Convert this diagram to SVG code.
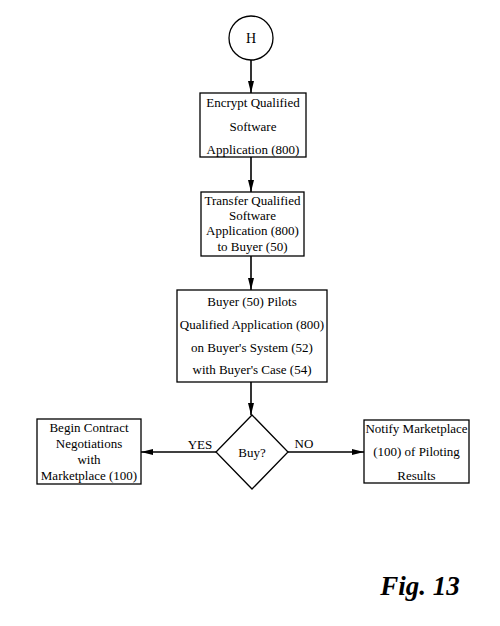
<svg xmlns="http://www.w3.org/2000/svg" width="500" height="626" viewBox="0 0 500 626">
<style>
.s{fill:#fff;stroke:#000;stroke-width:1.3}
.t{font-family:"Liberation Serif","Times New Roman",serif;font-size:13px;fill:#000;text-anchor:middle}
.c{stroke:#000;stroke-width:1.6;fill:none}
</style>
<defs>
<marker id="a" viewBox="0 0 12 6" refX="12" refY="3" markerWidth="12" markerHeight="6" markerUnits="userSpaceOnUse" orient="auto">
<path d="M0,0 L12,3 L0,6 Z" fill="#000"/>
</marker>
</defs>
<rect width="500" height="626" fill="#fff"/>
<g id="connectors">
<line class="c" x1="251" y1="60" x2="251" y2="93" marker-end="url(#a)"/>
<line class="c" x1="251" y1="157" x2="251" y2="192" marker-end="url(#a)"/>
<line class="c" x1="251" y1="256" x2="251" y2="290" marker-end="url(#a)"/>
<line class="c" x1="251" y1="382" x2="251" y2="415" marker-end="url(#a)"/>
<line class="c" x1="216" y1="452" x2="141" y2="452" marker-end="url(#a)"/>
<line class="c" x1="288" y1="452" x2="364" y2="452" marker-end="url(#a)"/>
<text class="t" x="200" y="449">YES</text>
<text class="t" x="304" y="448">NO</text>
</g>
<g id="H">
<circle class="s" cx="251" cy="38" r="22"/>
<text class="t" x="251" y="43" style="font-size:14px">H</text>
</g>
<g id="encrypt">
<rect class="s" x="200" y="93" width="106" height="64"/>
<text class="t" x="253" y="107">Encrypt Qualified</text>
<text class="t" x="253" y="131">Software</text>
<text class="t" x="253" y="154">Application (800)</text>
</g>
<g id="transfer">
<rect class="s" x="201" y="192" width="103" height="64"/>
<text class="t" x="252.5" y="205">Transfer Qualified</text>
<text class="t" x="252.5" y="220">Software</text>
<text class="t" x="252.5" y="235">Application (800)</text>
<text class="t" x="252.5" y="251">to Buyer (50)</text>
</g>
<g id="pilot">
<rect class="s" x="177" y="290" width="150" height="92"/>
<text class="t" x="252" y="306">Buyer (50) Pilots</text>
<text class="t" x="252" y="329">Qualified Application (800)</text>
<text class="t" x="252" y="352">on Buyer's System (52)</text>
<text class="t" x="252" y="374">with Buyer's Case (54)</text>
</g>
<g id="buy">
<polygon class="s" points="252,415 288,452 252,489 216,452"/>
<text class="t" x="252" y="457">Buy?</text>
</g>
<g id="contract">
<rect class="s" x="37" y="419" width="104" height="65"/>
<text class="t" x="89" y="432">Begin Contract</text>
<text class="t" x="89" y="448">Negotiations</text>
<text class="t" x="89" y="464">with</text>
<text class="t" x="89" y="480">Marketplace (100)</text>
</g>
<g id="notify">
<rect class="s" x="364" y="420" width="105" height="63"/>
<text class="t" x="416.5" y="433">Notify Marketplace</text>
<text class="t" x="416.5" y="456">(100) of Piloting</text>
<text class="t" x="416.5" y="480">Results</text>
</g>
<text x="420" y="595" font-family="Liberation Serif,serif" font-size="27" font-weight="bold" font-style="italic" text-anchor="middle">Fig. 13</text>
</svg>
